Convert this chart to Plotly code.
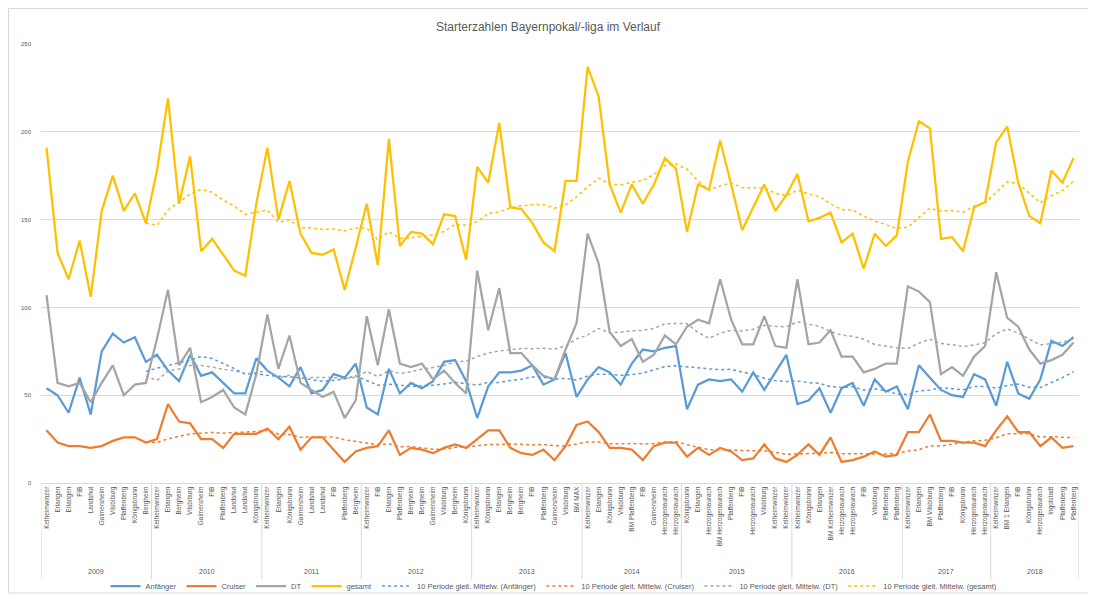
import plotly.graph_objects as go
import pandas as pd

title_text = "Starterzahlen Bayernpokal/-liga im Verlauf"

season_years = ["2009", "2010", "2011", "2012", "2013", "2014", "2015", "2016", "2017", "2018"]

event_names = [
    ["Kelheimwinzer", "Erlangen", "Erlangen", "FIB", "Landshut", "Gaimersheim", "Vilsbiburg", "Pfaffenberg", "Königsbrunn", "Bergheim"],
    ["Kelheimwinzer", "Erlangen", "Bergheim", "Vilsbiburg", "Gaimersheim", "FIB", "Pfaffenberg", "Landshut", "Landshut", "Königsbrunn"],
    ["Kelheimwinzer", "Erlangen", "Königsbrunn", "Gaimersheim", "Landshut", "Landshut", "FIB", "Pfaffenberg", "Bergheim"],
    ["Kelheimwinzer", "FIB", "Erlangen", "Pfaffenberg", "Bergheim", "Bergheim", "Gaimersheim", "Vilsbiburg", "Bergheim", "Königsbrunn"],
    ["Kelheimwinzer", "Königsbrunn", "Erlangen", "Bergheim", "Bergheim", "FIB", "Pfaffenberg", "Gaimersheim", "Vilsbiburg", "BM MAX"],
    ["Kelheimwinzer", "Erlangen", "Königsbrunn", "Vilsbiburg", "BM Pfaffenberg", "FIB", "Gaimersheim", "Herzogenaurach", "Herzogenaurach"],
    ["Königsbrunn", "Erlangen", "Herzogenaurach", "BM Herzogenaurach", "Pfaffenberg", "FIB", "Herzogenaurach", "Vilsbiburg", "Kelheimwinzer", "Kelheimwinzer"],
    ["Kelheimwinzer", "Königsbrunn", "Erlangen", "BM Kelheimwinzer", "Herzogenaurach", "Herzogenaurach", "FIB", "Vilsbiburg", "Pfaffenberg", "Pfaffenberg"],
    ["Kelheimwinzer", "Erlangen", "BM Vilsbiburg", "Pfaffenberg", "FIB", "Königsbrunn", "Herzogenaurach", "Herzogenaurach"],
    ["Kelheimwinzer", "BM 1 Erlangen", "FIB", "Königsbrunn", "Herzogenaurach", "Ingolstadt", "Pfaffenberg", "Pfaffenberg"],
]

anfaenger = [54, 50, 40, 60, 39, 75, 85, 80, 83, 69,
             73, 64, 58, 73, 61, 63, 57, 51, 51, 71,
             64, 60, 55, 66, 51, 53, 62, 60, 68,
             43, 39, 65, 51, 57, 54, 58, 69, 70, 58,
             37, 55, 63, 63, 64, 67, 56, 59, 74, 49,
             59, 66, 63, 56, 68, 76, 75, 77, 78,
             42, 56, 59, 58, 59, 52, 63, 53, 63, 73,
             45, 47, 54, 40, 54, 57, 44, 59, 52, 55,
             42, 67, 60, 53, 50, 49, 62, 59,
             44, 69, 51, 48, 59, 81, 78, 83]

cruiser = [30, 23, 21, 21, 20, 21, 24, 26, 26, 23,
           25, 45, 35, 34, 25, 25, 20, 28, 28, 28,
           31, 25, 32, 19, 26, 26, 19, 12, 18,
           20, 21, 30, 16, 20, 19, 17, 20, 22, 20,
           25, 30, 30, 20, 17, 16, 19, 13, 21, 33,
           35, 29, 20, 20, 19, 13, 21, 23, 23,
           15, 20, 16, 20, 18, 13, 14, 22, 14, 12,
           16, 22, 16, 26, 12, 13, 15, 18, 15, 16,
           29, 29, 39, 24, 24, 23, 23, 21,
           30, 38, 29, 29, 21, 26, 20, 21]

dt = [107, 57, 55, 57, 46, 57, 67, 50, 56, 57,
      82, 110, 67, 77, 46, 49, 53, 43, 39, 62,
      96, 65, 84, 57, 53, 49, 52, 37, 47,
      95, 67, 99, 68, 66, 68, 59, 64, 57, 51,
      121, 87, 111, 74, 74, 67, 61, 59, 76, 91,
      142, 125, 86, 78, 82, 69, 73, 84, 79,
      89, 93, 91, 116, 93, 79, 79, 95, 78, 77,
      116, 79, 80, 87, 72, 72, 63, 65, 68, 68,
      112, 109, 103, 62, 66, 61, 72, 78,
      120, 94, 89, 76, 68, 70, 73, 80]

gesamt = [191, 131, 116, 138, 106, 155, 175, 155, 165, 148,
          178, 219, 159, 186, 132, 139, 130, 121, 118, 159,
          191, 150, 172, 142, 131, 130, 133, 110, 134,
          159, 124, 196, 135, 143, 142, 136, 153, 152, 127,
          180, 171, 205, 157, 156, 148, 137, 132, 172, 172,
          237, 220, 170, 154, 170, 159, 170, 185, 179,
          143, 170, 167, 195, 170, 144, 157, 170, 155, 164,
          176, 149, 151, 154, 137, 142, 122, 142, 135, 141,
          183, 206, 202, 139, 140, 132, 157, 160,
          194, 203, 171, 152, 148, 178, 171, 185]

series_names = ["Anfänger", "Cruiser", "DT", "gesamt"]
series_colors = ["#5B9BD5", "#ED7D31", "#A5A5A5", "#FFC000"]
ma_window = 10

# flatten categories: one position per event, grouped by year
x_names, x_years = [], []
for yr, names in zip(season_years, event_names):
    for n in names:
        x_names.append(n)
        x_years.append(yr)
n_points = len(x_names)
x_pos = list(range(n_points))

font_fam = "Liberation Sans Narrow, Liberation Sans, Arial"
txt_col = "#595959"
grid_col = "#D9D9D9"

fig = go.Figure()
all_series = [anfaenger, cruiser, dt, gesamt]
for name, vals, col in zip(series_names, all_series, series_colors):
    fig.add_trace(go.Scatter(x=x_pos, y=vals, mode="lines", name=name,
                             line=dict(color=col, width=2.25)))
for name, vals, col in zip(series_names, all_series, series_colors):
    ma = pd.Series(vals).rolling(ma_window).mean().tolist()
    fig.add_trace(go.Scatter(x=x_pos, y=ma, mode="lines",
                             name=f"10 Periode gleit. Mittelw. ({name})",
                             line=dict(color=col, width=1.5, dash="dot")))

# the page has an 8px body margin; figure is sized so plot lands where the reference has it
OFF = 8
W, H = 1096 - OFF, 596 - OFF
L, R, T, B = 41 - OFF, 17, 44 - OFF, 113
pw, ph = W - L - R, H - T - B

def px_x(p):  # page pixel -> paper x
    return (p - 41) / pw

def px_y(p):  # page pixel -> paper y
    return (483 - p) / ph

fig.update_layout(
    width=W, height=H,
    margin=dict(l=L, r=R, t=T, b=B, autoexpand=False),
    paper_bgcolor="white", plot_bgcolor="white",
    font=dict(family=font_fam, color=txt_col),
    title=dict(text=title_text, x=(548 - OFF) / W, xref="container", xanchor="center",
               y=1 - (27 - OFF) / H, yref="container", yanchor="middle",
               font=dict(size=12, color=txt_col, family=font_fam)),
    xaxis=dict(range=[-0.5, n_points - 0.5], tickmode="array",
               tickvals=x_pos, ticktext=x_names, tickangle=-90,
               tickfont=dict(size=6.5, color=txt_col, family=font_fam),
               showgrid=False, zeroline=False, showline=True,
               linecolor=grid_col, linewidth=1, ticks="", fixedrange=True,
               automargin=False),
    yaxis=dict(range=[0, 250], dtick=50, showgrid=True, gridcolor=grid_col,
               gridwidth=1, zeroline=False, showline=False,
               tickfont=dict(size=6, color=txt_col, family=font_fam),
               ticklabelstandoff=9, automargin=False),
    legend=dict(orientation="h", x=px_x(554), xanchor="center", y=px_y(586),
                yanchor="middle", font=dict(size=7.5, color=txt_col, family=font_fam),
                itemwidth=30, bgcolor="rgba(0,0,0,0)"),
    showlegend=True,
)

# year group dividers and labels (second category level)
boundaries = [-0.5]
start = 0
for yr, names in zip(season_years, event_names):
    end = start + len(names) - 1
    fig.add_annotation(x=(start + end) / 2, xref="x", y=px_y(571), yref="paper",
                       text=yr, showarrow=False, yanchor="middle",
                       font=dict(size=7, color=txt_col, family=font_fam))
    boundaries.append(end + 0.5)
    start = end + 1
for bx in boundaries:
    fig.add_shape(type="line", xref="x", yref="paper", x0=bx, x1=bx,
                  y0=0, y1=px_y(579), line=dict(color=grid_col, width=1))

# chart-area border
fig.add_shape(type="rect", xref="paper", yref="paper",
              x0=px_x(8.5), x1=px_x(1090), y0=px_y(593), y1=px_y(8.5),
              line=dict(color=grid_col, width=1), fillcolor="rgba(0,0,0,0)",
              layer="below")

fig.write_html("out.html")
